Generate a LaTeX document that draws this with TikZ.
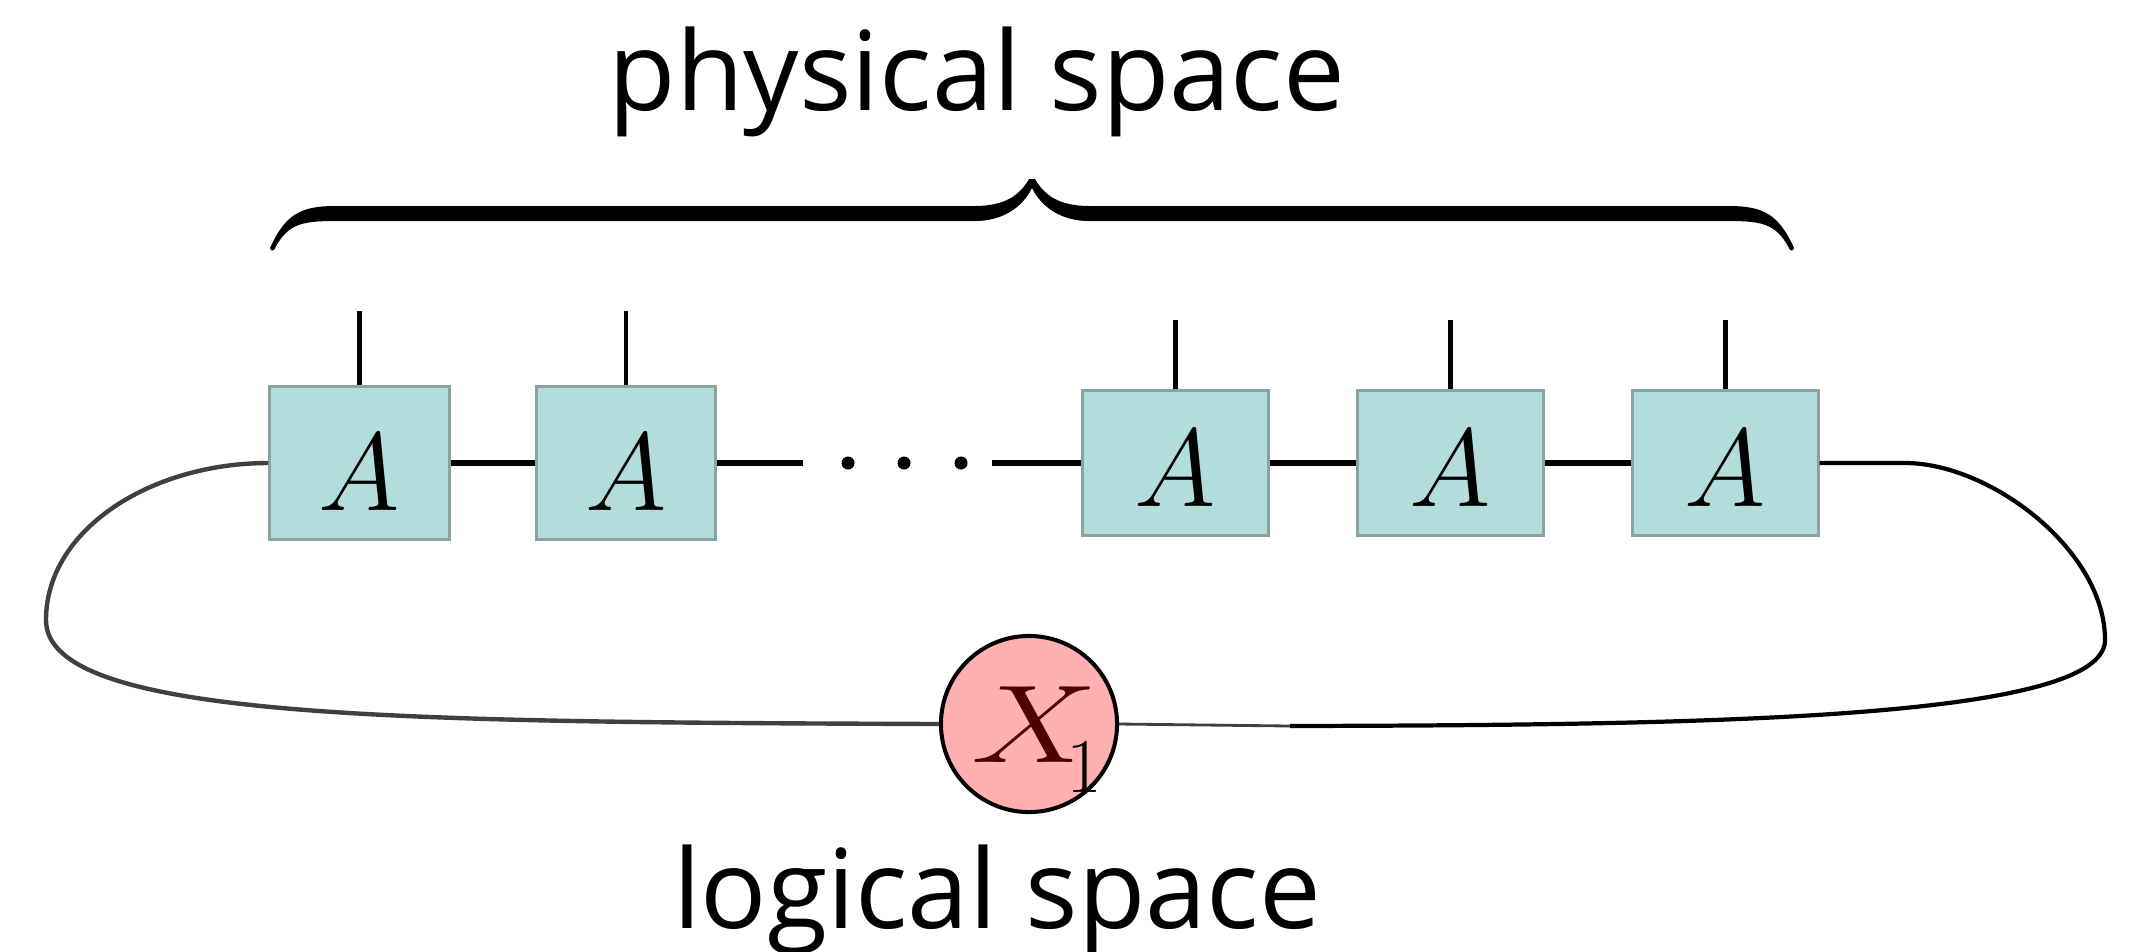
\RequirePackage{fix-cm}
\documentclass[tikz,border=0pt]{standalone}
\usepackage{fontspec}
\newfontfamily\labelfont{Open Sans}
\definecolor{boxfill}{RGB}{179,221,221}
\definecolor{boxline}{RGB}{138,162,162}
\definecolor{nodefill}{RGB}{255,176,176}
\definecolor{xred}{RGB}{80,0,0}
\definecolor{wiregrey}{RGB}{64,64,64}
\tikzset{
  tensor/.style={draw=boxline, fill=boxfill, line width=0.85pt, inner sep=0pt,
    font=\fontsize{31.5}{36}\selectfont, text height=0.94cm, text depth=0cm},
  bigbox/.style={tensor, minimum width=1.79cm, minimum height=1.52cm},
  smallbox/.style={tensor, minimum width=1.85cm, minimum height=1.44cm, text height=0.86cm},
  bond/.style={line width=1.45pt, black},
  leg/.style={line width=1.2pt, black},
  lwire/.style={line width=1.25pt, wiregrey},
  rwire/.style={line width=1.2pt, black},
  thinwire/.style={line width=0.8pt, wiregrey},
  dotnode/.style={circle, fill=black, inner sep=0pt, minimum size=0.13cm},
  lbl/.style={font=\labelfont\fontsize{31.3}{36}\selectfont, inner sep=0pt, anchor=base},
  logic/.style={circle, draw=black, fill=nodefill, line width=1.15pt, minimum size=1.76cm,
    inner sep=0pt, font=\fontsize{31.5}{36}\selectfont, text height=0.76cm, text depth=0cm}
}
\begin{document}
\begin{tikzpicture}[x=0.01cm, y=-0.01cm]
\useasboundingbox (0,0) rectangle (2131,951);

% labels
\node[lbl] (phys) at (977,110) {physical space};
\node[lbl] (logi) at (997,928) {logical space};

% brace
\fill[black] (270,248) .. controls (285,215) and (300,206) .. (335,206) -- (975,206)
  .. controls (1005,206) and (1020,195) .. (1029,179) -- (1035,179)
  .. controls (1044,195) and (1059,206) .. (1089,206) -- (1729,206)
  .. controls (1764,206) and (1779,215) .. (1794,248)
  .. controls (1793,251) and (1791,251) .. (1790,250)
  .. controls (1777,225) and (1765,221) .. (1729,221) -- (1089,221)
  .. controls (1062,221) and (1042,208) .. (1032,188)
  .. controls (1022,208) and (1002,221) .. (975,221) -- (335,221)
  .. controls (299,221) and (287,225) .. (274,250)
  .. controls (273,251) and (271,251) .. (270,248) -- cycle;

% tensors
\node[bigbox] (a1) at (359.5,463) {$A$};
\node[bigbox] (a2) at (626,463) {$A$};
\node[smallbox] (a3) at (1175.5,463) {$A$};
\node[smallbox] (a4) at (1450.5,463) {$A$};
\node[smallbox] (a5) at (1725.5,463) {$A$};

% logical node
\node[logic] (x1) at (1029,724)
  {\kern0.15cm\scalebox{1.28}[1]{$\textcolor{xred}{X}$}\kern-0.31cm\raisebox{-0.3cm}{$\scriptstyle 1$}};

% physical legs
\coordinate (t1) at (359.5,311);
\coordinate (t2) at (626,311);
\coordinate (t3) at (1175.5,320);
\coordinate (t4) at (1450.5,320);
\coordinate (t5) at (1725.5,320);
\draw[leg] (a1.north) -- (t1);
\draw[leg] (a2.north) -- (t2);
\draw[leg] (a3.north) -- (t3);
\draw[leg] (a4.north) -- (t4);
\draw[leg] (a5.north) -- (t5);

% bonds
\coordinate (g1) at (803,463);
\coordinate (g2) at (992,463);
\draw[bond] (a1.east) -- (a2.west);
\draw[bond] (a2.east) -- (g1);
\draw[bond] (g2) -- (a3.west);
\draw[bond] (a3.east) -- (a4.west);
\draw[bond] (a4.east) -- (a5.west);

% dots
\node[dotnode] (p1) at (848,463) {};
\node[dotnode] (p2) at (904,463) {};
\node[dotnode] (p3) at (961,463) {};

% wires to logical node
\draw[lwire] (a1.west) .. controls (150,463) and (46,530) .. (46,620)
  .. controls (46,720) and (400,722) .. (x1.west);
\coordinate (m) at (1290,726);
\draw[rwire] (a5.east) -- (1905,463) .. controls (1990,463) and (2105,550) .. (2105,640)
  .. controls (2105,720) and (1700,725) .. (m);
\draw[thinwire] (x1.east) -- (m);
\end{tikzpicture}
\end{document}
